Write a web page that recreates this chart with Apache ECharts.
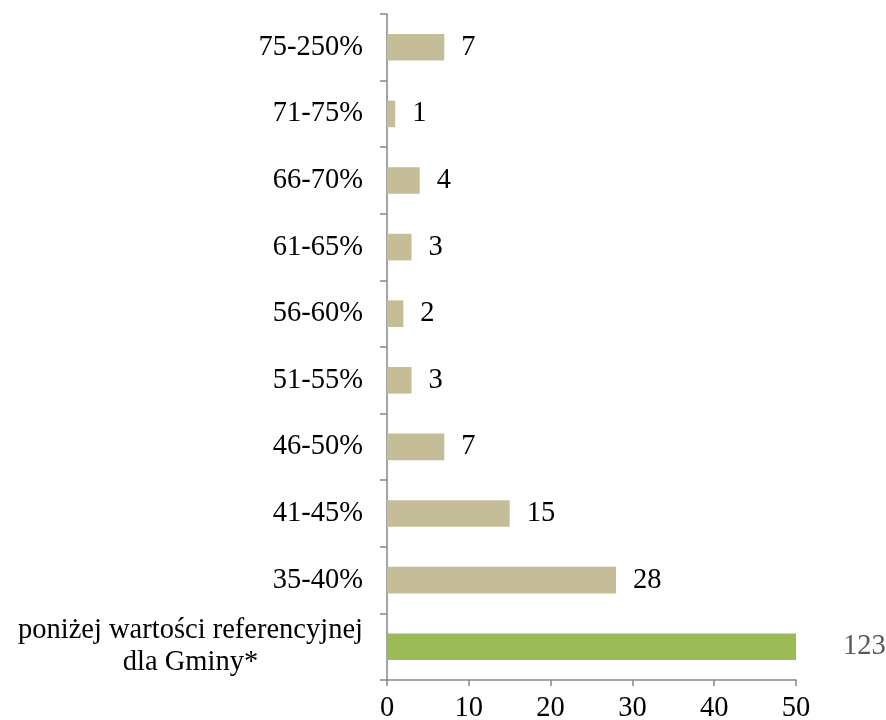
<!DOCTYPE html>
<html>
<head>
<meta charset="utf-8">
<script src="https://cdn.jsdelivr.net/npm/echarts@6/dist/echarts.min.js"></script>
<style>
  html, body { margin: 0; padding: 0; background: #fff; }
  #chart { width: 886px; height: 720px; }
</style>
</head>
<body>
<div id="chart"></div>
<script>
// categories bottom -> top
const categories = [
  "poniżej wartości referencyjnej\ndla Gminy*",
  "35-40%", "41-45%", "46-50%", "51-55%", "56-60%",
  "61-65%", "66-70%", "71-75%", "75-250%"
];
const counts = [123, 28, 15, 7, 3, 2, 3, 4, 1, 7];
const xTicks = { min: 0, max: 50, interval: 10 };

const FONT = "Liberation Serif";
const FS = 28.5;
const tan = "#c4bd97";
const green = "#9bbb59";
const axisGray = "#868686";

const chart = echarts.init(document.getElementById("chart"));

const option = {
  animation: false,
  grid: { left: 387, right: 90, top: 14, bottom: 40, outerBoundsMode: "none", containLabel: false },
  xAxis: {
    type: "value",
    min: xTicks.min,
    max: xTicks.max,
    interval: xTicks.interval,
    splitLine: { show: false },
    axisLine: { show: true, lineStyle: { color: axisGray, width: 1.5 } },
    axisTick: { show: true, length: 6, lineStyle: { color: axisGray, width: 1.5 } },
    axisLabel: { color: "#000", fontFamily: FONT, fontSize: FS, margin: 14 },
  },
  yAxis: {
    type: "category",
    data: categories,
    axisLine: { show: true, lineStyle: { color: axisGray, width: 1.5 } },
    axisTick: { show: true, length: 7, lineStyle: { color: axisGray, width: 1.5 } },
    axisLabel: {
      color: "#000",
      fontFamily: FONT,
      fontSize: FS,
      margin: 24,
      formatter: function (v) {
        if (v.indexOf("\n") >= 0) {
          return v.split("\n").map((s) => "{c|" + s + "}").join("\n");
        }
        return v;
      },
      rich: {
        c: { align: "center", color: "#000", fontFamily: FONT, fontSize: FS, lineHeight: 32 },
      },
    },
  },
  series: [
    {
      type: "bar",
      barWidth: "40%",
      clip: true,
      data: counts.map((v, i) => {
        if (i === 0) {
          return {
            value: v,
            itemStyle: { color: green },
            label: { color: "#595959", offset: [30, 0] },
          };
        }
        return { value: v, itemStyle: { color: tan } };
      }),
      label: {
        show: true,
        position: "right",
        distance: 17,
        color: "#000",
        fontFamily: FONT,
        fontSize: FS,
      },
    },
  ],
};

chart.setOption(option);
</script>
</body>
</html>
